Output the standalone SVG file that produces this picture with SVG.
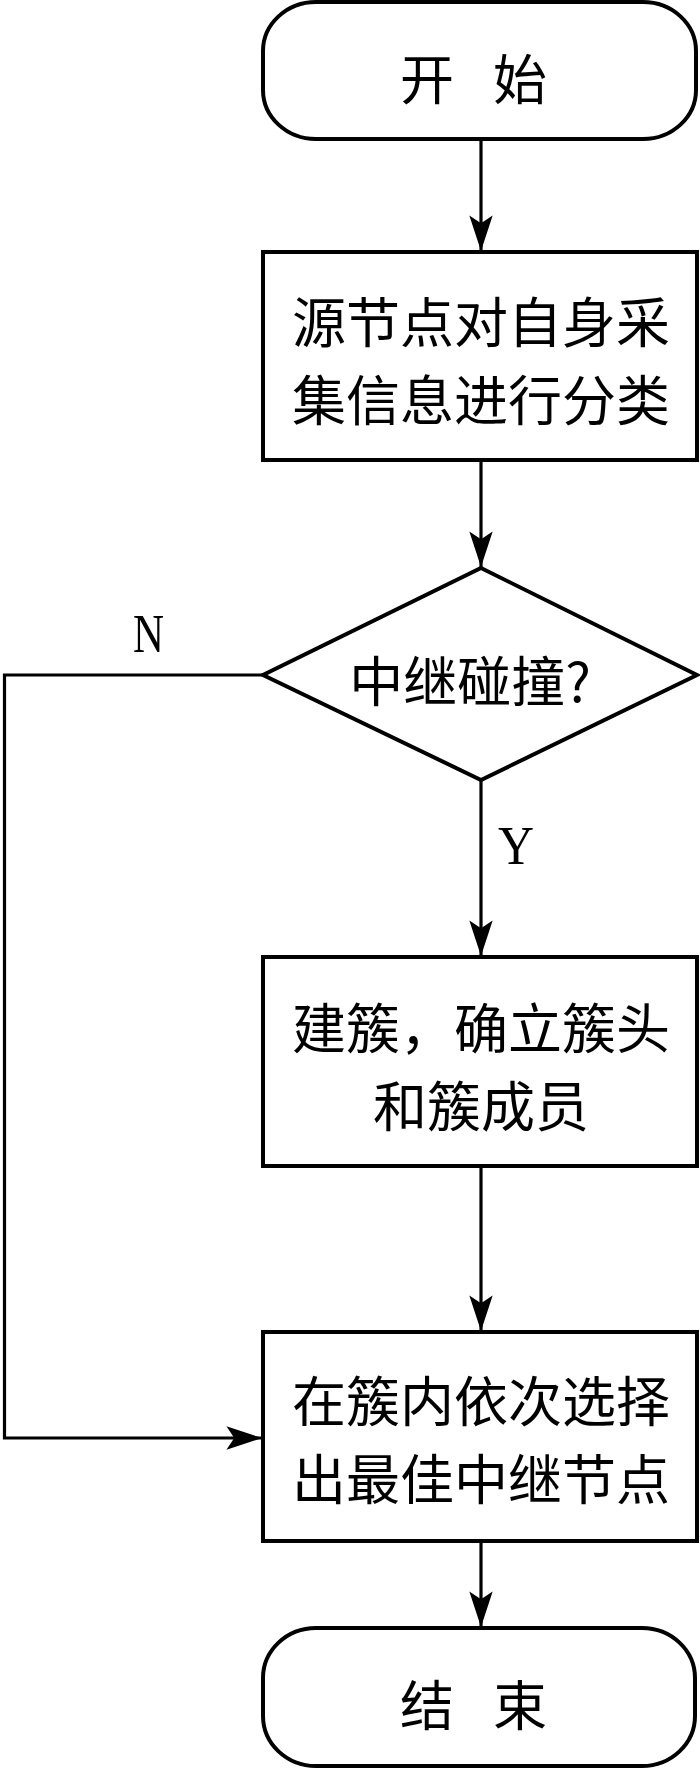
<svg xmlns="http://www.w3.org/2000/svg" width="700" height="1770" viewBox="0 0 700 1770">
<style>
.shape{fill:#fff;stroke:#000;stroke-width:4}
.conn{fill:none;stroke:#000;stroke-width:3.2}
.cjk{font-family:"Noto Sans CJK SC","Noto Sans",sans-serif;font-size:54px;fill:#000;dominant-baseline:central}
.lat{font-family:"Liberation Serif","Times New Roman",serif;font-size:54px;fill:#000}
</style>
<defs>
<marker id="arr" markerUnits="userSpaceOnUse" markerWidth="40" markerHeight="30" viewBox="-34 -12 36 24" refX="0" refY="0" orient="auto">
<path d="M0,0 L-32,-10.5 L-25,0 L-32,10.5 Z" fill="#000"/>
</marker>
</defs>
<rect width="700" height="1770" fill="#fff"/>
<g id="connectors">
<path class="conn" d="M481,139 V251" marker-end="url(#arr)"/>
<path class="conn" d="M481,460 V567" marker-end="url(#arr)"/>
<path class="conn" d="M481,780 V956" marker-end="url(#arr)"/>
<path class="conn" d="M481,1166 V1331" marker-end="url(#arr)"/>
<path class="conn" d="M481,1541 V1627" marker-end="url(#arr)"/>
<path class="conn" d="M263,675 H4.5 V1438 H262" marker-end="url(#arr)"/>
<text class="lat" x="133" y="652" textLength="31" lengthAdjust="spacingAndGlyphs">N</text>
<text class="lat" x="498" y="864" textLength="36" lengthAdjust="spacingAndGlyphs">Y</text>
</g>
<g id="start">
<rect class="shape" x="263" y="2" width="433" height="137" rx="53" ry="49"/>
<text class="cjk" x="400" y="76" letter-spacing="39">开始</text>
</g>
<g id="classify">
<rect class="shape" x="263" y="252" width="434" height="208"/>
<text class="cjk" x="481" y="319" text-anchor="middle">源节点对自身采</text>
<text class="cjk" x="481" y="397" text-anchor="middle">集信息进行分类</text>
</g>
<g id="decision">
<polygon class="shape" points="481,568 697,675 481,780 263,675"/>
<text class="cjk" x="470" y="678" text-anchor="middle">中继碰撞?</text>
</g>
<g id="cluster">
<rect class="shape" x="263" y="957" width="434" height="209"/>
<text class="cjk" x="481" y="1025" text-anchor="middle">建簇，确立簇头</text>
<text class="cjk" x="481" y="1103" text-anchor="middle">和簇成员</text>
</g>
<g id="select">
<rect class="shape" x="263" y="1332" width="434" height="209"/>
<text class="cjk" x="481" y="1398" text-anchor="middle">在簇内依次选择</text>
<text class="cjk" x="481" y="1476" text-anchor="middle">出最佳中继节点</text>
</g>
<g id="end">
<rect class="shape" x="263" y="1628" width="432" height="138" rx="53" ry="50"/>
<text class="cjk" x="400" y="1702" letter-spacing="39">结束</text>
</g>
</svg>
